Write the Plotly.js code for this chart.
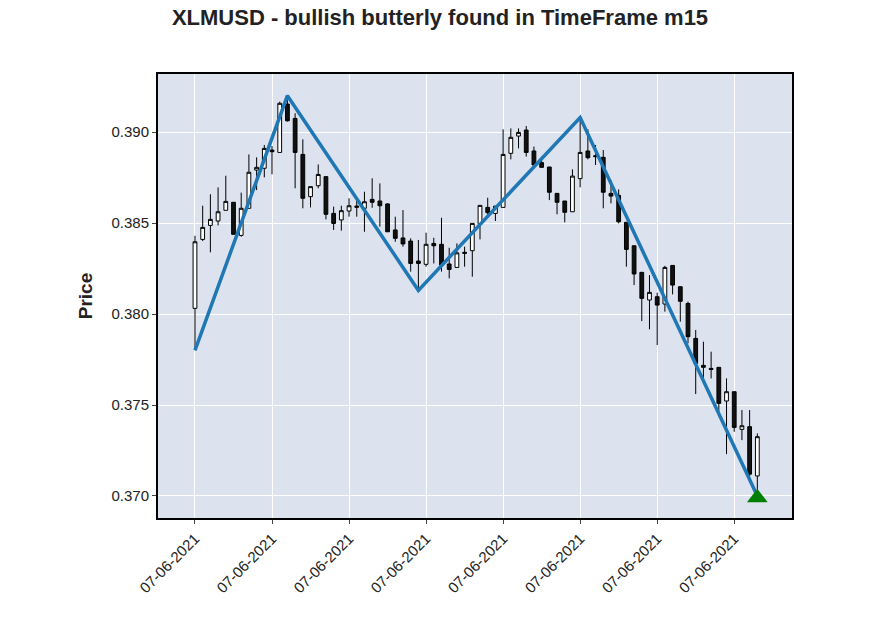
<!DOCTYPE html>
<html>
<head>
<meta charset="utf-8">
<script src="https://cdn.plot.ly/plotly-3.0.1.min.js"></script>
<style>body{margin:0}#chart{width:880px;height:632px}</style>
</head>
<body>
<div id="chart"></div>
<script>
var opens = [0.38031,0.38410,0.38487,0.38511,0.38570,0.38614,0.38432,0.38581,0.38791,0.38801,
  0.38901,0.38888,0.39154,0.39075,0.38877,0.38645,0.38705,0.38755,0.38553,0.38517,
  0.38566,0.38586,0.38581,0.38630,0.38621,0.38605,0.38462,0.38418,0.38401,0.38291,
  0.38273,0.38388,0.38383,0.38275,0.38256,0.38339,0.38348,0.38493,0.38586,0.38553,
  0.38586,0.38883,0.38978,0.39011,0.38896,0.38832,0.38808,0.38663,0.38621,0.38562,
  0.38744,0.38896,0.38870,0.38861,0.38663,0.38652,0.38504,0.38375,0.38229,0.38077,
  0.38095,0.38055,0.38267,0.38150,0.38058,0.37866,0.37718,0.37701,0.37707,0.37522,
  0.37573,0.37366,0.37381,0.37110];
var closes = [0.38397,0.38476,0.38520,0.38562,0.38619,0.38438,0.38581,0.38779,0.38806,0.38910,
  0.38892,0.39158,0.39062,0.38888,0.38636,0.38700,0.38767,0.38548,0.38498,0.38568,
  0.38595,0.38593,0.38617,0.38614,0.38595,0.38452,0.38416,0.38385,0.38278,0.38278,
  0.38383,0.38375,0.38269,0.38245,0.38336,0.38334,0.38498,0.38597,0.38557,0.38593,
  0.38877,0.38971,0.38998,0.38888,0.38819,0.38806,0.38669,0.38614,0.38559,0.38758,
  0.38888,0.38859,0.38865,0.38669,0.38648,0.38507,0.38355,0.38220,0.38086,0.38119,
  0.38049,0.38256,0.38159,0.38070,0.37875,0.37729,0.37707,0.37696,0.37509,0.37573,
  0.37377,0.37386,0.37120,0.37326];
var highs = [0.38430,0.38595,0.38658,0.38696,0.38760,0.38614,0.38667,0.38877,0.38861,0.38929,
  0.38923,0.39167,0.39204,0.39103,0.38960,0.38700,0.38822,0.38755,0.38590,0.38595,
  0.38636,0.38627,0.38672,0.38746,0.38718,0.38608,0.38535,0.38571,0.38416,0.38407,
  0.38447,0.38419,0.38529,0.38364,0.38388,0.38370,0.38498,0.38597,0.38639,0.38593,
  0.39015,0.39020,0.39020,0.39033,0.38920,0.38865,0.38808,0.38663,0.38621,0.38795,
  0.39079,0.39015,0.38929,0.38901,0.38736,0.38685,0.38504,0.38375,0.38229,0.38214,
  0.38117,0.38265,0.38267,0.38150,0.38068,0.37912,0.37848,0.37793,0.37707,0.37646,
  0.37573,0.37472,0.37472,0.37344];
var lows = [0.37802,0.38401,0.38339,0.38487,0.38570,0.38438,0.38425,0.38581,0.38681,0.38751,
  0.38768,0.38888,0.39057,0.38691,0.38581,0.38586,0.38691,0.38520,0.38462,0.38458,
  0.38535,0.38535,0.38452,0.38584,0.38480,0.38452,0.38397,0.38370,0.38233,0.38132,
  0.38260,0.38278,0.38233,0.38196,0.38256,0.38260,0.38205,0.38410,0.38544,0.38511,
  0.38586,0.38850,0.38910,0.38865,0.38819,0.38806,0.38626,0.38548,0.38504,0.38562,
  0.38696,0.38850,0.38819,0.38581,0.38608,0.38498,0.38260,0.38159,0.37961,0.37916,
  0.37829,0.38013,0.38108,0.37958,0.37839,0.37560,0.37646,0.37646,0.37463,0.37230,
  0.37353,0.37307,0.37097,0.37033];
var patternIdx = [0, 12, 29, 50, 73];
var patternPrice = [0.3780, 0.3920, 0.3813, 0.3908, 0.3700];
var tickIdx = [0, 10, 20, 30, 40, 50, 60, 70];
var tickLabels = ['07-06-2021','07-06-2021','07-06-2021','07-06-2021','07-06-2021','07-06-2021','07-06-2021','07-06-2021'];

var idx = opens.map(function(v, i) { return i; });

var candles = {
  type: 'candlestick', x: idx, open: opens, high: highs, low: lows, close: closes,
  increasing: {line: {color: 'black', width: 1}, fillcolor: 'white'},
  decreasing: {line: {color: 'black', width: 1}, fillcolor: '#111111'},
  whiskerwidth: 0, hoverinfo: 'skip'
};
var zigzag = {
  type: 'scatter', mode: 'lines', x: patternIdx, y: patternPrice,
  line: {color: '#1f77b4', width: 3.5}
};
var marker = {
  type: 'scatter', mode: 'markers', x: [patternIdx[4]], y: [patternPrice[4] - 0.0001],
  marker: {symbol: 'triangle-up', size: 18, color: 'green'}
};

var layout = {
  width: 880, height: 632,
  margin: {l: 158, r: 88, t: 74, b: 114},
  paper_bgcolor: 'white', plot_bgcolor: '#dce2ee',
  showlegend: false,
  font: {family: 'Liberation Sans, Arial, sans-serif', size: 15, color: '#222'},
  title: {text: '<b>XLMUSD - bullish butterly found in TimeFrame m15</b>', x: 0.5, y: 0.985, yanchor: 'top', font: {size: 22}},
  xaxis: {
    range: [-4.8, 77.5], tickvals: tickIdx, ticktext: tickLabels, tickangle: -45,
    gridcolor: 'white', showline: true, mirror: true, linecolor: 'black', linewidth: 2,
    ticks: 'outside', ticklen: 4, rangeslider: {visible: false}, zeroline: false
  },
  yaxis: {
    range: [0.36879, 0.39319], dtick: 0.005, tickformat: '.3f',
    gridcolor: 'white', showline: true, mirror: true, linecolor: 'black', linewidth: 2,
    ticks: 'outside', ticklen: 4, zeroline: false,
    title: {text: '<b>Price</b>', font: {size: 19}, standoff: 14}
  }
};
Plotly.newPlot('chart', [candles, zigzag, marker], layout, {displayModeBar: false, staticPlot: true});
</script>
</body>
</html>
